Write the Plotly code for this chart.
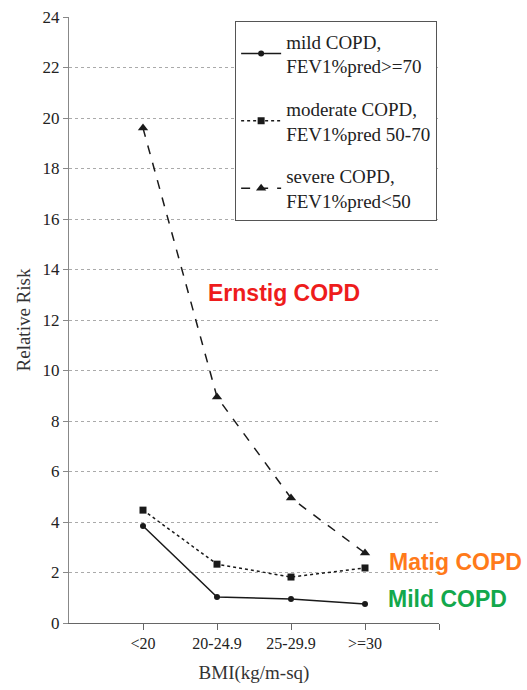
import plotly.graph_objects as go

categories = ["<20", "20-24.9", "25-29.9", ">=30"]
mild = [3.84, 1.03, 0.95, 0.75]
moderate = [4.47, 2.33, 1.82, 2.18]
severe = [19.6, 8.95, 4.95, 2.77]
names = ["mild COPD,<br>FEV1%pred>=70", "moderate COPD,<br>FEV1%pred 50-70", "severe COPD,<br>FEV1%pred<50"]
y_ticks = list(range(0, 25, 2))

xpos = [1, 2, 3, 4]
serif = "Liberation Serif"
sans = "Liberation Sans"
ink = "#1a1a1a"

fig = go.Figure()
fig.add_trace(go.Scatter(x=xpos, y=mild, name=names[0], mode="lines+markers", legendgroup="a",
                         line=dict(color=ink, width=1.5, dash="solid"),
                         marker=dict(symbol="circle", size=6, color=ink)))
fig.add_trace(go.Scatter(x=xpos, y=moderate, name=names[1], mode="lines+markers", legendgroup="b",
                         line=dict(color=ink, width=1.5, dash="dot"),
                         marker=dict(symbol="square", size=7, color=ink)))
fig.add_trace(go.Scatter(x=xpos, y=severe, name=names[2], mode="lines+markers", legendgroup="c",
                         line=dict(color=ink, width=1.5, dash="dash"),
                         marker=dict(symbol="triangle-up", size=9, color=ink)))

fig.update_layout(
    width=527, height=690,
    margin=dict(l=69, r=88, t=17, b=67, autoexpand=False),
    plot_bgcolor="white", paper_bgcolor="white",
    font=dict(family=serif, size=16, color="#333"),
    showlegend=True,
    legend=dict(x=0.449, y=0.993, xanchor="left", yanchor="top",
                bordercolor="#555", borderwidth=1, bgcolor="white",
                font=dict(family=serif, size=19, color="#222"),
                traceorder="grouped", tracegroupgap=15, itemwidth=40),
    xaxis=dict(range=[0, 5], tickvals=xpos + [5], ticktext=categories + [""],
               showgrid=False, zeroline=False, showline=True, automargin=False,
               linecolor="#666", linewidth=1.2, ticks="outside", ticklen=6,
               tickcolor="#666", tickfont=dict(family=serif, size=16, color="#222"),
               title=dict(text="BMI(kg/m-sq)", font=dict(family=serif, size=19, color="#333"), standoff=14)),
    yaxis=dict(range=[0, 24], tickvals=y_ticks, showgrid=True, automargin=False,
               gridcolor="#aaa", griddash="dot", gridwidth=1,
               zeroline=False, showline=True, linecolor="#888", linewidth=1.2,
               ticks="outside", ticklen=5, tickcolor="#888",
               tickfont=dict(family=serif, size=17, color="#222"),
               title=dict(text="Relative Risk", font=dict(family=serif, size=19, color="#333"), standoff=6)),
    annotations=[
        dict(x=2.9, y=13.07, xref="x", yref="y", text="<b>Ernstig COPD</b>", showarrow=False,
             font=dict(family=sans, size=23, color="#ee1c1c")),
        dict(x=0.859, y=2.42, xref="paper", yref="y", xanchor="left", text="<b>Matig COPD</b>", showarrow=False,
             font=dict(family=sans, size=23, color="#ff7a1a")),
        dict(x=0.857, y=0.95, xref="paper", yref="y", xanchor="left", text="<b>Mild COPD</b>", showarrow=False,
             font=dict(family=sans, size=23, color="#13a84c")),
    ],
)
fig.write_html("out.html")
